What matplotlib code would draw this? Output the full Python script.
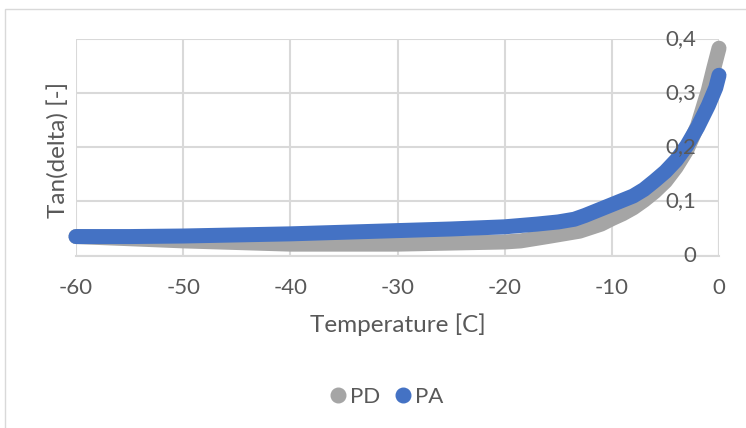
import matplotlib
matplotlib.use("Agg")
import matplotlib.pyplot as plt
from matplotlib.lines import Line2D
from matplotlib.patches import Rectangle
from matplotlib.transforms import offset_copy

# ---- data ----
pd_temp = [-60, -55, -50, -45, -40, -35, -30, -25, -20, -18.5, -16, -13, -11, -10,
           -9, -8, -7, -6, -5, -4, -3, -2, -1, -0.5, 0]
pd_tan = [0.035, 0.031, 0.027, 0.024, 0.021, 0.021, 0.021, 0.023, 0.025, 0.027,
          0.035, 0.045, 0.058, 0.068, 0.077, 0.088, 0.102, 0.118, 0.137, 0.163,
          0.195, 0.240, 0.305, 0.345, 0.383]

pa_temp = [-60, -55, -50, -45, -40, -35, -30, -25, -20, -17, -15, -13.5, -12.5,
           -11.5, -10, -9, -8, -7, -6, -5, -4, -3, -2, -1, -0.3, 0]
pa_tan = [0.035, 0.035, 0.036, 0.038, 0.040, 0.043, 0.046, 0.049, 0.053, 0.058,
          0.062, 0.067, 0.074, 0.082, 0.094, 0.102, 0.110, 0.122, 0.138, 0.155,
          0.176, 0.203, 0.237, 0.277, 0.310, 0.333]

x_ticks = [-60, -50, -40, -30, -20, -10, 0]
y_ticks = [0, 0.1, 0.2, 0.3, 0.4]
y_tick_labels = ["0", "0,1", "0,2", "0,3", "0,4"]
series_names = ["PD", "PA"]
series_colors = ["#A5A5A5", "#4472C4"]

plt.rcParams['font.family'] = ['Lato', 'DejaVu Sans']
plt.rcParams['axes.unicode_minus'] = False
text_color = "#595959"
grid_color = "#D9D9D9"

W, H = 746, 428
fig = plt.figure(figsize=(W / 100, H / 100), dpi=100)
fig.patches.append(Rectangle((5 / W, -0.1), 2, 1.1 - 9 / H, transform=fig.transFigure,
                             fill=False, edgecolor=grid_color, linewidth=1.0))

ax = fig.add_axes([76 / W, 1 - 255.5 / H, (719 - 76) / W, (255.5 - 39) / H])

lw = 10.8
ax.plot(pd_temp, pd_tan, color=series_colors[0], lw=lw, solid_capstyle='round',
        solid_joinstyle='round', clip_on=False, zorder=3)
ax.plot(pa_temp, pa_tan, color=series_colors[1], lw=lw, solid_capstyle='round',
        solid_joinstyle='round', clip_on=False, zorder=4)

ax.set_xlim(-60, 0)
ax.set_ylim(0, 0.4)
ax.set_xticks(x_ticks)
ax.set_yticks(y_ticks)
ax.set_yticklabels([])

ax.grid(True, color=grid_color, linewidth=1.5, zorder=0)
ax.set_axisbelow(True)
for s in ['top', 'right', 'left']:
    ax.spines[s].set_visible(False)
ax.spines['bottom'].set_color(grid_color)
ax.spines['bottom'].set_linewidth(1.5)
# vertical value axis crossing at x = 0
ax.axvline(0, color=grid_color, linewidth=1.5, zorder=1)

ax.tick_params(axis='both', length=0, labelsize=16, colors=text_color)
ax.tick_params(axis='x', pad=16)

# value-axis labels sit left of the axis at x = 0, drawn above the lines
lab_tr = offset_copy(ax.transData, fig=fig, x=-23, y=0, units='dots')
for yv, lab in zip(y_ticks, y_tick_labels):
    ax.text(0, yv, lab, transform=lab_tr, ha='right', va='center', fontsize=16,
            color=text_color, zorder=6)

ax.set_xlabel("Temperature [C]", fontsize=17.5, color=text_color, labelpad=11)
fig.text(59 / W, 1 - 150 / H, "Tan(delta) [-]", rotation=90, fontsize=17.5,
         color=text_color, ha='center', va='center')

handles = [Line2D([], [], marker='o', linestyle='none', markersize=10.5,
                  markerfacecolor=c, markeredgecolor=c) for c in series_colors]
fig.legend(handles, series_names, loc='center', bbox_to_anchor=(385 / W, 1 - 397 / H),
           ncol=2, frameon=False, fontsize=16, labelcolor=text_color,
           handletextpad=0.05, columnspacing=0.5, handlelength=1.0)

fig.savefig("out.png", dpi=100)
